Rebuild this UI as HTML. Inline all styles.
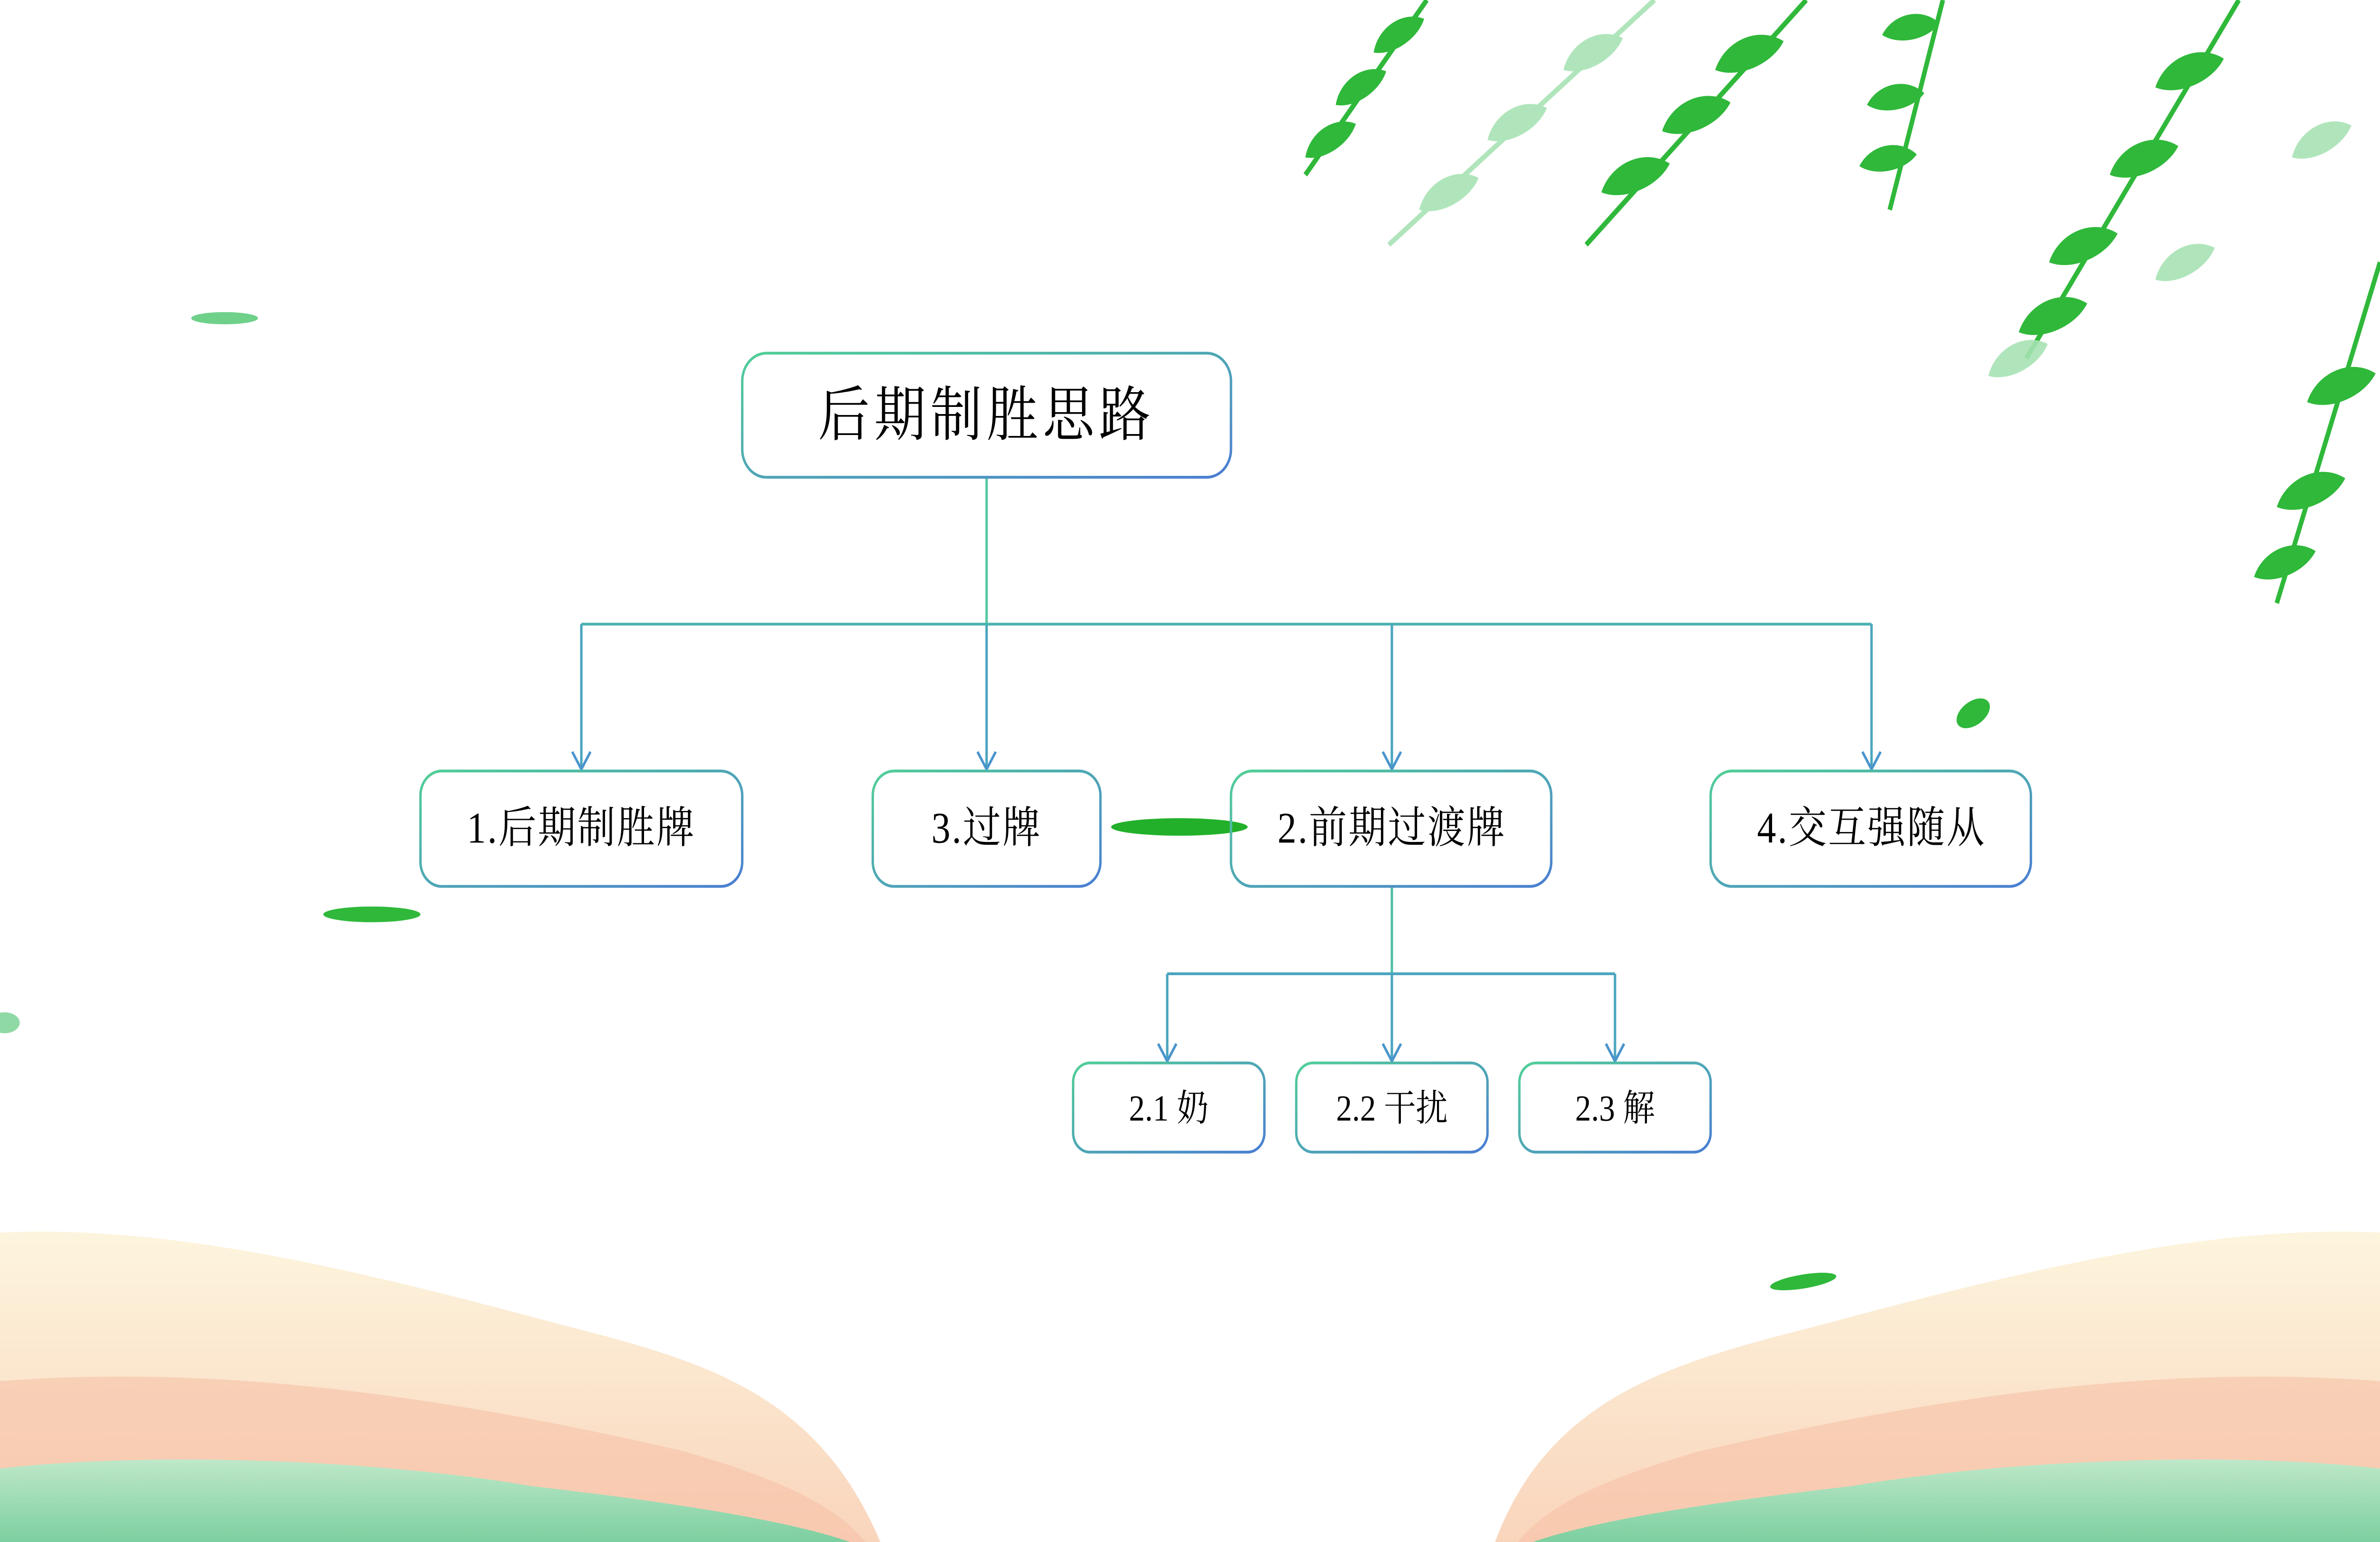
<!DOCTYPE html>
<html><head><meta charset="utf-8"><style>html,body{margin:0;padding:0;background:#fff;overflow:hidden;width:100vw;height:100vh}svg{display:block;width:100vw;height:100vh}</style></head><body>
<svg viewBox="0 0 1568 882" preserveAspectRatio="none" xmlns="http://www.w3.org/2000/svg">
<defs>
<linearGradient id="g" x1="0" y1="0" x2="1" y2="1"><stop offset="0" stop-color="#52cf98"/><stop offset="1" stop-color="#4a7ed2"/></linearGradient>
<linearGradient id="hill1" x1="0" y1="0" x2="0" y2="1"><stop offset="0" stop-color="#fdf3d8"/><stop offset="1" stop-color="#f8cdb0"/></linearGradient>
<linearGradient id="hill2" x1="0" y1="0" x2="0" y2="1"><stop offset="0" stop-color="#bfe8c9"/><stop offset="1" stop-color="#7ccfa0"/></linearGradient>
<g id="leaf"><path d="M0,0 C6,-7 18,-7 24,0 C18,5 6,5 0,0Z"/></g>
</defs>
<!-- bottom hills -->
<path d="M0,705 C120,700 250,730 380,760 C470,780 540,800 580,882 L0,882Z" fill="url(#hill1)" opacity="0.85"/>
<path d="M0,790 C150,780 300,800 450,830 C510,845 550,860 570,882 L0,882Z" fill="#f6c1a7" opacity="0.6"/>
<path d="M0,840 C100,830 250,835 350,850 C450,860 520,870 560,882 L0,882Z" fill="url(#hill2)"/>
<path d="M1568,705 C1450,700 1320,730 1190,760 C1100,780 1020,800 985,882 L1568,882Z" fill="url(#hill1)" opacity="0.85"/>
<path d="M1568,790 C1420,780 1270,800 1120,830 C1060,845 1020,860 1000,882 L1568,882Z" fill="#f6c1a7" opacity="0.6"/>
<path d="M1568,840 C1470,830 1320,835 1220,850 C1120,860 1050,870 1010,882 L1568,882Z" fill="url(#hill2)"/>
<!-- vines -->
<g fill="#2fb83a">
<path d="M940,0 L860,100" stroke="#2fb83a" stroke-width="3"/>
<path d="M1190,0 L1045,140" stroke="#2fb83a" stroke-width="3"/>
<path d="M1280,0 L1245,120" stroke="#2fb83a" stroke-width="3"/>
<path d="M1475,0 L1335,205" stroke="#2fb83a" stroke-width="3"/>
<path d="M1568,150 L1500,345" stroke="#2fb83a" stroke-width="3"/>
<g transform="translate(905,30) rotate(-30)"><use href="#leaf" transform="scale(1.6)"/></g>
<g transform="translate(880,60) rotate(-30)"><use href="#leaf" transform="scale(1.6)"/></g>
<g transform="translate(860,90) rotate(-30)"><use href="#leaf" transform="scale(1.6)"/></g>
<g transform="translate(1130,40) rotate(-20)"><use href="#leaf" transform="scale(2)"/></g>
<g transform="translate(1095,75) rotate(-20)"><use href="#leaf" transform="scale(2)"/></g>
<g transform="translate(1055,110) rotate(-20)"><use href="#leaf" transform="scale(2)"/></g>
<g transform="translate(1240,20) rotate(-10)"><use href="#leaf" transform="scale(1.6)"/></g>
<g transform="translate(1230,60) rotate(-10)"><use href="#leaf" transform="scale(1.6)"/></g>
<g transform="translate(1225,95) rotate(-10)"><use href="#leaf" transform="scale(1.6)"/></g>
<g transform="translate(1420,50) rotate(-20)"><use href="#leaf" transform="scale(2)"/></g>
<g transform="translate(1390,100) rotate(-20)"><use href="#leaf" transform="scale(2)"/></g>
<g transform="translate(1350,150) rotate(-20)"><use href="#leaf" transform="scale(2)"/></g>
<g transform="translate(1330,190) rotate(-20)"><use href="#leaf" transform="scale(2)"/></g>
<g transform="translate(1520,230) rotate(-20)"><use href="#leaf" transform="scale(2)"/></g>
<g transform="translate(1500,290) rotate(-20)"><use href="#leaf" transform="scale(2)"/></g>
<g transform="translate(1485,330) rotate(-20)"><use href="#leaf" transform="scale(1.8)"/></g>
<ellipse cx="1300" cy="408" rx="12" ry="7" transform="rotate(-30 1300 408)"/>
<ellipse cx="1188" cy="733" rx="22" ry="4" transform="rotate(-8 1188 733)"/>
<ellipse cx="245" cy="523" rx="32" ry="4.5"/>
<ellipse cx="148" cy="182" rx="22" ry="3.5" fill="#6fd08a"/>
<ellipse cx="3" cy="585" rx="10" ry="6" fill="#8fd9a5"/>
</g>
<g fill="#a8e3b4" opacity="0.9">
<path d="M1090,0 L915,140" stroke="#a8e3b4" stroke-width="3"/>
<g transform="translate(1030,40) rotate(-25)"><use href="#leaf" transform="scale(1.8)"/></g>
<g transform="translate(980,80) rotate(-25)"><use href="#leaf" transform="scale(1.8)"/></g>
<g transform="translate(935,120) rotate(-25)"><use href="#leaf" transform="scale(1.8)"/></g>
<g transform="translate(1510,90) rotate(-25)"><use href="#leaf" transform="scale(1.8)"/></g>
<g transform="translate(1420,160) rotate(-25)"><use href="#leaf" transform="scale(1.8)"/></g>
<g transform="translate(1310,215) rotate(-25)"><use href="#leaf" transform="scale(1.8)"/></g>
</g>
<!-- connectors -->
<g stroke-width="1.6" fill="none">
<path d="M650,273 V357" stroke="#52c9a0"/>
<path d="M650,357 V440" stroke="#4aa5c0"/>
<path d="M383,357 H1233" stroke="#4ab3b0"/>
<path d="M383,357 V440 M917,357 V440 M1233,357 V440" stroke="#4aa5c0"/>
<path d="M917,507 V557" stroke="#4fbfa5"/>
<path d="M917,557 V606" stroke="#4aa5c0"/>
<path d="M769,557 H1064 M769,557 V606 M1064,557 V606" stroke="#4aa5c0"/>
<g stroke="#4a95cc">
<path d="M377,430 L383,440 L389,430 M644,430 L650,440 L656,430 M911,430 L917,440 L923,430 M1227,430 L1233,440 L1239,430"/>
<path d="M763,597 L769,607 L775,597 M911,597 L917,607 L923,597 M1058,597 L1064,607 L1070,597"/>
</g>
</g>
<ellipse cx="777" cy="473" rx="45" ry="5" fill="#22b02a"/>
<!-- nodes -->
<g fill="none" stroke="url(#g)" stroke-width="1.6">
<rect x="489" y="202" width="322" height="71" rx="16"/>
<rect x="277" y="441" width="212" height="66" rx="14"/>
<rect x="575" y="441" width="150" height="66" rx="14"/>
<rect x="811" y="441" width="211" height="66" rx="14"/>
<rect x="1127" y="441" width="211" height="66" rx="14"/>
<rect x="707" y="608" width="126" height="51" rx="11"/>
<rect x="854" y="608" width="126" height="51" rx="11"/>
<rect x="1001" y="608" width="126" height="51" rx="11"/>
</g>
<g font-family="'Liberation Serif','Noto Serif CJK SC',serif" fill="#000" text-anchor="middle">
<text x="650" y="249" font-size="34" letter-spacing="3">后期制胜思路</text>
<text x="383" y="482" font-size="25" letter-spacing="1">1.后期制胜牌</text>
<text x="650" y="482" font-size="25" letter-spacing="1">3.过牌</text>
<text x="917" y="482" font-size="25" letter-spacing="1">2.前期过渡牌</text>
<text x="1233" y="482" font-size="25" letter-spacing="1">4.交互强随从</text>
<text x="770" y="641" font-size="21">2.1 奶</text>
<text x="917" y="641" font-size="21">2.2 干扰</text>
<text x="1064" y="641" font-size="21">2.3 解</text>
</g>
</svg>
</body></html>
